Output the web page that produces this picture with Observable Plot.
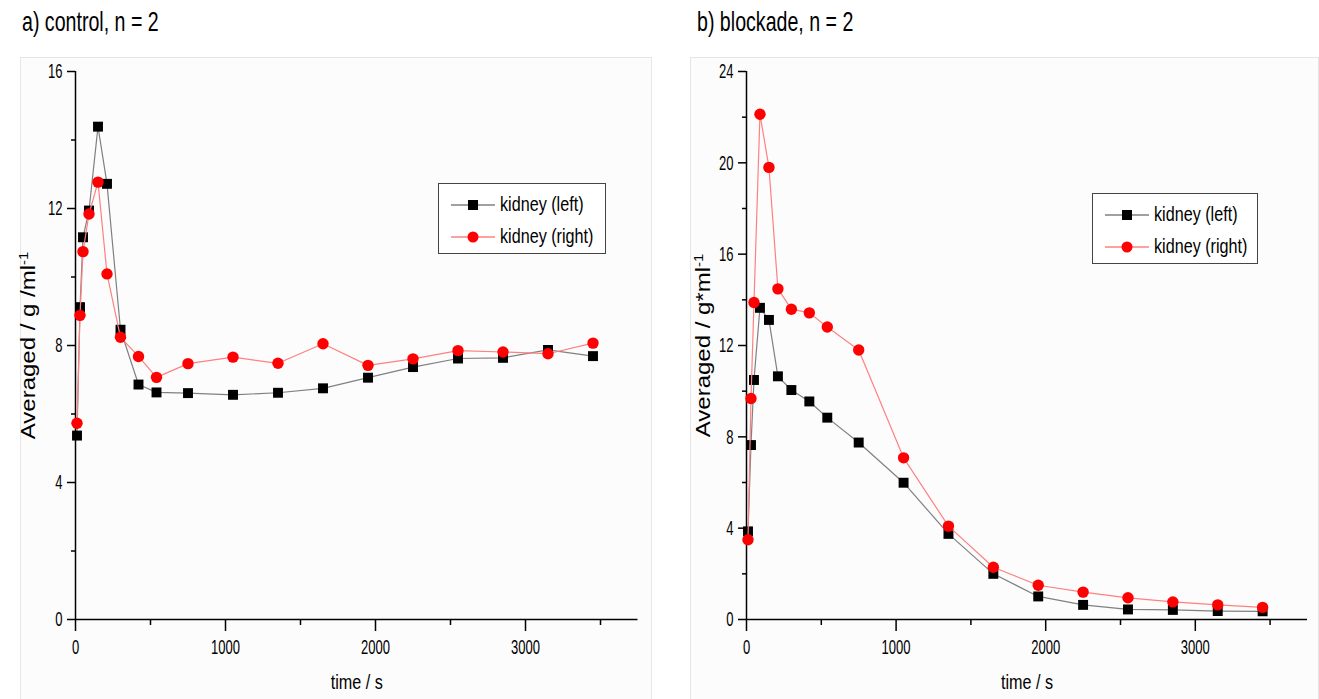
<!DOCTYPE html>
<html>
<head>
<meta charset="utf-8">
<script src="https://cdn.jsdelivr.net/npm/d3@7"></script>
<script src="https://cdn.jsdelivr.net/npm/@observablehq/plot@0.6"></script>
<style>
  html, body { margin: 0; padding: 0; background: #fff; }
  body { width: 1319px; height: 699px; position: relative; overflow: hidden;
         font-family: "Liberation Sans", Arial, sans-serif; color: #000; }
  .frame { position: absolute; top: 57px; height: 645px; border: 1px solid #e6e6e6; background: #fcfcfc; box-sizing: border-box; }
  .title { position: absolute; top: 6px; font-size: 28px; white-space: nowrap; transform: scaleX(0.7); transform-origin: left center; }
  .plot { position: absolute; top: 57px; }
  .legend { position: absolute; border: 1.5px solid #444; background: #fff; box-sizing: border-box; }
  .legend .row { position: absolute; left: 0; height: 30px; width: 100%; }
  .legend .row svg { position: absolute; left: 10px; top: 4px; }
  .legend .row span { position: absolute; left: 61px; top: 1px; font-size: 21px; white-space: nowrap;
                      transform: scaleX(0.77); transform-origin: left center; line-height: 26px; }
</style>
</head>
<body>
<div class="frame" style="left:20px; width:632px;"></div>
<div class="frame" style="left:690px; width:629px;"></div>
<div class="title" style="left:22px;">a) control, n = 2</div>
<div class="title" style="left:697px;">b) blockade, n = 2</div>
<div id="plotA" class="plot" style="left:0px;"></div>
<div id="plotB" class="plot" style="left:670px;"></div>
<div id="legA" class="legend" style="left:438px; top:183px; width:168px; height:71px;"></div>
<div id="legB" class="legend" style="left:1092px; top:193px; width:166px; height:71px;"></div>
<script>
// ---- data ----
const time = [10, 30, 50, 90, 150, 210, 300, 420, 540, 750, 1050, 1350, 1650, 1950, 2250, 2550, 2850, 3150, 3450];
const controlLeft  = [5.37, 9.12, 11.16, 11.94, 14.39, 12.72, 8.46, 6.86, 6.63, 6.61, 6.56, 6.62, 6.75, 7.06, 7.37, 7.62, 7.64, 7.87, 7.69];
const controlRight = [5.73, 8.88, 10.74, 11.84, 12.77, 10.09, 8.24, 7.68, 7.07, 7.47, 7.66, 7.48, 8.05, 7.42, 7.61, 7.85, 7.81, 7.76, 8.07];
const blockadeLeft  = [3.86, 7.64, 10.49, 13.65, 13.12, 10.65, 10.05, 9.55, 8.84, 7.75, 5.99, 3.75, 2.0, 1.01, 0.64, 0.44, 0.42, 0.37, 0.36];
const blockadeRight = [3.49, 9.68, 13.88, 22.13, 19.8, 14.48, 13.59, 13.43, 12.81, 11.8, 7.08, 4.09, 2.29, 1.5, 1.2, 0.95, 0.77, 0.64, 0.53];
const seriesNames = ["kidney (left)", "kidney (right)"];
const xTicks = [0, 1000, 2000, 3000];
const xMinorTicks = [500, 1500, 2500, 3500];
const yTicksA = [0, 4, 8, 12, 16];
const yMinorA = [2, 6, 10, 14];
const yTicksB = [0, 4, 8, 12, 16, 20, 24];
const yMinorB = [2, 6, 10, 14, 18, 22];
const titlesY = ["Averaged / g /ml\u207B\u00B9", "Averaged / g*ml\u207B\u00B9"];
const xLabel = "time / s";

const styles = [
  {line: "#808080", fill: "#000000", symbol: "square", r: 5.6},
  {line: "#ff8080", fill: "#ff0000", symbol: "circle", r: 5.7}
];
const FONT = '"Liberation Sans", Arial, sans-serif';

function rows(leftVals, rightVals) {
  const out = [];
  time.forEach((t, i) => out.push({t, v: leftVals[i], s: seriesNames[0]}));
  time.forEach((t, i) => out.push({t, v: rightVals[i], s: seriesNames[1]}));
  return out;
}

// narrow-font look: scale each text horizontally (in its own frame) around its anchor
function restyle(svg) {
  svg.querySelectorAll("text").forEach(t => {
    const grp = t.parentNode && t.parentNode.getAttribute ? (t.parentNode.getAttribute("aria-label") || "") : "";
    const tr = t.getAttribute("transform") || "";
    let s = 0.77, size = 21;
    if (grp.includes("tick label")) { s = 0.62; size = 21; }
    else if (tr.includes("rotate")) { s = 1.2; size = 20; }
    t.setAttribute("font-size", size);
    t.style.fontSize = size + "px";
    const xa = t.getAttribute("x");
    const x = xa !== null && !isNaN(+xa) ? +xa : 0;
    t.setAttribute("transform", `${tr} translate(${x},0) scale(${s},1) translate(${-x},0)`.trim());
    const txt = t.textContent;
    if (txt.endsWith("\u207B\u00B9")) {
      t.textContent = txt.slice(0, -2);
      const sp = document.createElementNS("http://www.w3.org/2000/svg", "tspan");
      sp.setAttribute("dy", "-0.55em");
      sp.setAttribute("font-size", "0.62em");
      sp.textContent = "-1";
      t.appendChild(sp);
    }
  });
}

function panel({data, width, marginLeft, marginRight, yMax, yTicks, yMinor, yTitle, yTitleDx}) {
  const marks = [
    Plot.axisX(xTicks, {tickSize: 12, tickPadding: 8, label: null, tickFormat: d => String(d), strokeWidth: 1.5}),
    Plot.axisX(xMinorTicks, {tickSize: 6, text: null, label: null, strokeWidth: 1.5}),
    Plot.axisY(yTicks, {tickSize: 8, tickPadding: 5, label: null, strokeWidth: 1.5}),
    Plot.axisY(yMinor, {tickSize: 4, text: null, label: null, strokeWidth: 1.5}),
    Plot.ruleY([0], {stroke: "#000", strokeWidth: 1.5}),
    Plot.ruleX([0], {stroke: "#000", strokeWidth: 1.5}),
    Plot.text([xLabel], {frameAnchor: "bottom", dy: 63, lineAnchor: "middle", textAnchor: "middle"}),
    Plot.text([yTitle], {frameAnchor: "left", dx: yTitleDx, rotate: -90, lineAnchor: "middle", textAnchor: "middle"})
  ];
  seriesNames.forEach((name, k) => {
    const d = data.filter(r => r.s === name);
    const st = styles[k];
    marks.push(Plot.line(d, {x: "t", y: "v", stroke: st.line, strokeWidth: 1.2}));
    marks.push(Plot.dot(d, {x: "t", y: "v", symbol: st.symbol, r: st.r, fill: st.fill, stroke: "none"}));
  });
  const svg = Plot.plot({
    width, height: 642,
    marginLeft, marginRight, marginTop: 14, marginBottom: 80,
    x: {domain: [0, 3750]},
    y: {domain: [0, yMax]},
    style: {fontFamily: FONT, fontSize: "21px", background: "transparent", color: "#000", overflow: "visible"},
    marks
  });
  restyle(svg);
  return svg;
}

document.getElementById("plotA").appendChild(panel({
  data: rows(controlLeft, controlRight), width: 650, marginLeft: 75, marginRight: 12.5,
  yMax: 16, yTicks: yTicksA, yMinor: yMinorA, yTitle: titlesY[0], yTitleDx: -47
}));
document.getElementById("plotB").appendChild(panel({
  data: rows(blockadeLeft, blockadeRight), width: 649, marginLeft: 76, marginRight: 12,
  yMax: 24, yTicks: yTicksB, yMinor: yMinorB, yTitle: titlesY[1], yTitleDx: -43
}));

function legend(id) {
  const el = document.getElementById(id);
  seriesNames.forEach((name, k) => {
    const st = styles[k];
    const row = document.createElement("div");
    row.className = "row";
    row.style.top = (6 + k * 32) + "px";
    const marker = st.symbol === "square"
      ? `<rect x="19" y="6" width="10" height="10" fill="${st.fill}"/>`
      : `<circle cx="24" cy="11" r="5.5" fill="${st.fill}"/>`;
    row.innerHTML = `<svg width="48" height="22"><line x1="2" x2="46" y1="11" y2="11" stroke="${st.line}" stroke-width="1.4"/>${marker}</svg><span>${name}</span>`;
    el.appendChild(row);
  });
}
legend("legA");
legend("legB");
</script>
</body>
</html>
